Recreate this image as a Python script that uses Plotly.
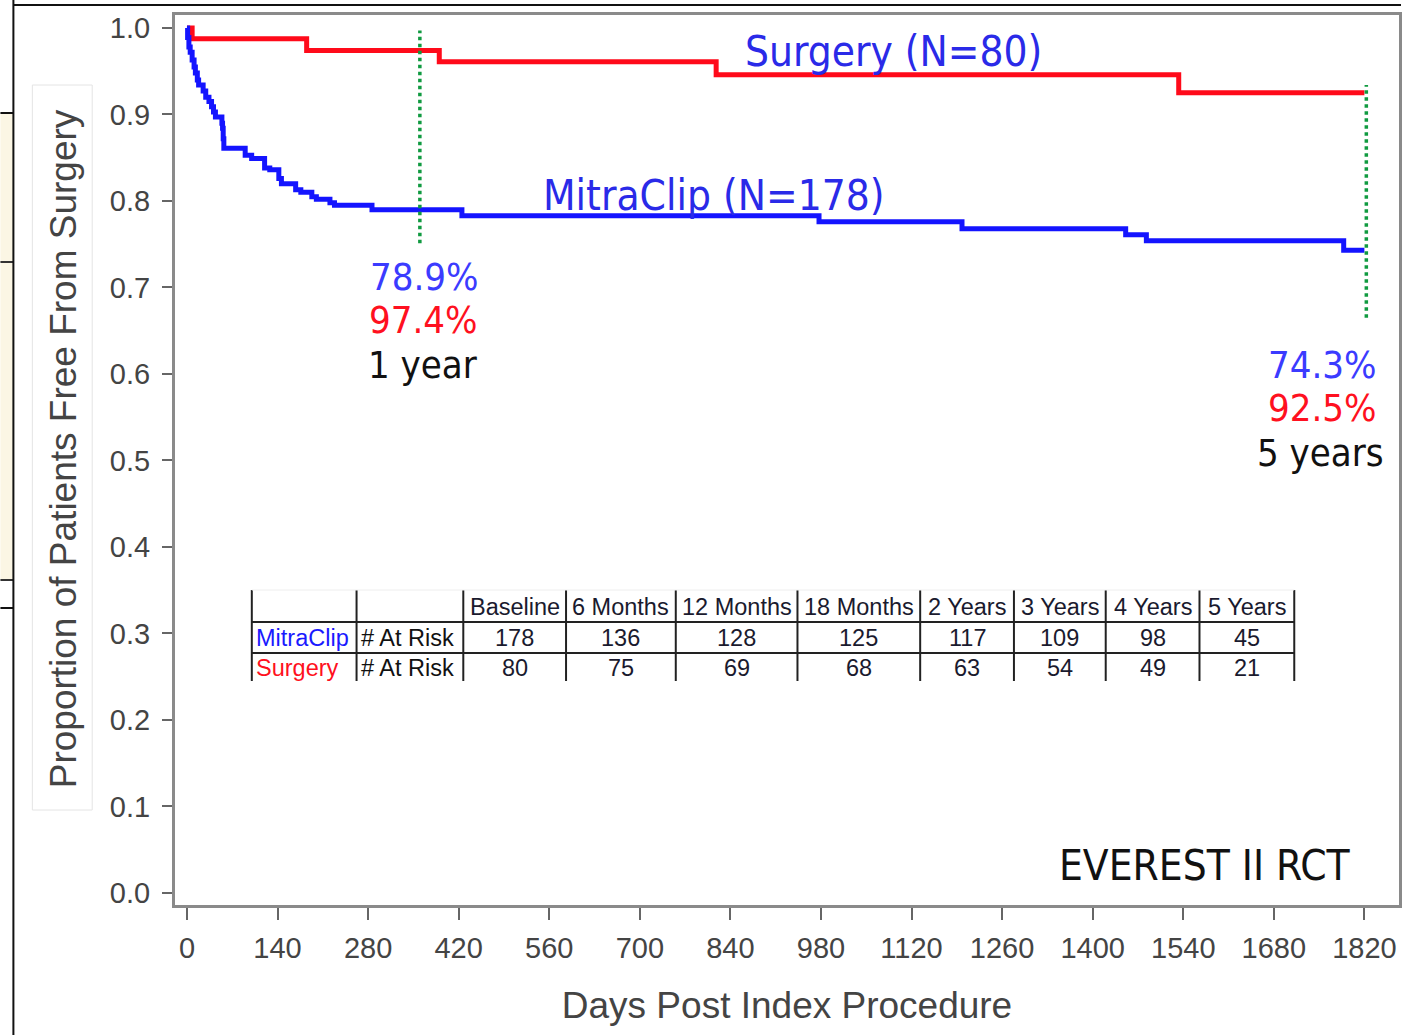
import plotly.graph_objects as go

# ---------------- data ----------------
mitra_days = [0, 1, 3, 5, 8, 11, 13, 16, 18, 25, 29, 34, 38, 41, 44, 54, 55, 56, 57,
              90, 100, 120, 128, 142, 146, 168, 176, 193, 200, 221, 228, 286, 425,
              977, 1198, 1451, 1483, 1788, 1820]
mitra_surv = [1.0, 0.989, 0.978, 0.972, 0.963, 0.955, 0.948, 0.940, 0.934, 0.927,
              0.920, 0.915, 0.909, 0.903, 0.897, 0.890, 0.884, 0.872, 0.861,
              0.853, 0.849, 0.838, 0.836, 0.826, 0.820, 0.813, 0.810, 0.805, 0.802,
              0.798, 0.795, 0.790, 0.783, 0.776, 0.768, 0.761, 0.754, 0.743, 0.743]

surg_days = [0, 8, 185, 390, 818, 1533, 1820]
surg_surv = [1.0, 0.9875, 0.974, 0.961, 0.946, 0.925, 0.925]

marker_days = [360, 1823]
marker_top = [0.997, 0.934]
marker_bottom = [0.751, 0.665]

x_ticks = [0, 140, 280, 420, 560, 700, 840, 980, 1120, 1260, 1400, 1540, 1680, 1820]
y_ticks = [0.0, 0.1, 0.2, 0.3, 0.4, 0.5, 0.6, 0.7, 0.8, 0.9, 1.0]

table_headers = ["Baseline", "6 Months", "12 Months", "18 Months", "2 Years",
                 "3 Years", "4 Years", "5 Years"]
mitra_at_risk = [178, 136, 128, 125, 117, 109, 98, 45]
surg_at_risk = [80, 75, 69, 68, 63, 54, 49, 21]

# ---------------- layout helpers (pixel -> paper) ----------------
W, H = 1404, 1035
L, R, T, B = 175, 1402, 15, 905


def px(x):
    return (x - L) / (R - L)


def py(y):
    return (B - y) / (B - T)


ARIAL = "Liberation Sans, Arial, sans-serif"
NARROW = "DejaVu Sans Condensed, Liberation Sans Narrow, Arial Narrow, Liberation Sans, sans-serif"
BLUE_TXT = "#2a2ae8"
PCT_BLUE = "#3b3bff"

fig = go.Figure()

fig.add_trace(go.Scatter(x=surg_days, y=surg_surv, mode="lines",
                         line=dict(shape="hv", color="#ff0a1a", width=5),
                         name="Surgery", showlegend=False, hoverinfo="skip"))
fig.add_trace(go.Scatter(x=mitra_days, y=mitra_surv, mode="lines",
                         line=dict(shape="hv", color="#1414ff", width=5),
                         name="MitraClip", showlegend=False, hoverinfo="skip"))

for d, t, b in zip(marker_days, marker_top, marker_bottom):
    fig.add_trace(go.Scatter(x=[d, d], y=[b, t], mode="lines",
                             line=dict(color="#109a40", width=3.5, dash="dot"),
                             showlegend=False, hoverinfo="skip"))

shapes = []
annotations = []

# outer frame pieces and cropped-edge artifacts
shapes.append(dict(type="rect", xref="paper", yref="paper", x0=px(0), x1=px(13),
                   y0=py(580), y1=py(113), fillcolor="#fbf6e4", line=dict(width=0), layer="below"))
for yy, c in [(113, "#111"), (262, "#333"), (580, "#333"), (608, "#111")]:
    shapes.append(dict(type="line", xref="paper", yref="paper", x0=px(0), x1=px(13),
                       y0=py(yy), y1=py(yy), line=dict(color=c, width=2)))
shapes.append(dict(type="line", xref="paper", yref="paper", x0=px(13), x1=px(13),
                   y0=py(0), y1=py(1035), line=dict(color="#111", width=2)))
shapes.append(dict(type="line", xref="paper", yref="paper", x0=px(13), x1=px(1404),
                   y0=py(5), y1=py(5), line=dict(color="#111", width=2)))
# y-title box
shapes.append(dict(type="rect", xref="paper", yref="paper", x0=px(32), x1=px(92),
                   y0=py(810), y1=py(85), line=dict(color="#e4e4e4", width=1)))

# ---------------- at-risk table ----------------
col_edges = [252, 357, 464, 567, 677, 799, 922, 1016, 1108, 1202, 1297]
row_edges = [590, 622, 653, 681]
for xe in col_edges:
    shapes.append(dict(type="line", xref="paper", yref="paper", x0=px(xe), x1=px(xe),
                       y0=py(row_edges[0]), y1=py(row_edges[-1]),
                       line=dict(color="#222", width=2)))
for ye in row_edges[1:3]:
    shapes.append(dict(type="line", xref="paper", yref="paper", x0=px(col_edges[0]),
                       x1=px(col_edges[-1]), y0=py(ye), y1=py(ye),
                       line=dict(color="#222", width=2)))
shapes.append(dict(type="line", xref="paper", yref="paper", x0=px(col_edges[0]),
                   x1=px(col_edges[-1]), y0=py(row_edges[0]), y1=py(row_edges[0]),
                   line=dict(color="#eeeeee", width=1)))

row_centers = [(row_edges[i] + row_edges[i + 1]) / 2 + 1 for i in range(3)]
TFS = 23.5


def cell(x, y, text, color, xanchor="center"):
    annotations.append(dict(x=px(x), y=py(y), text=text, showarrow=False,
                            xref="paper", yref="paper", xanchor=xanchor, yanchor="middle",
                            font=dict(family=ARIAL, size=TFS, color=color)))


for i, h in enumerate(table_headers):
    cx = (col_edges[i + 2] + col_edges[i + 3]) / 2
    cell(cx, row_centers[0], h, "#1a1a2e")
    cell(cx, row_centers[1], str(mitra_at_risk[i]), "#1a1a2e")
    cell(cx, row_centers[2], str(surg_at_risk[i]), "#1a1a2e")
for r, (name, colr) in enumerate([("MitraClip", "#1a1aff"), ("Surgery", "#ff1020")]):
    cell(254, row_centers[r + 1], name, colr, "left")
    cell(359, row_centers[r + 1], "# At Risk", "#111", "left")


# ---------------- chart labels ----------------
def label(x, y, text, size, color, xanchor="center"):
    annotations.append(dict(x=px(x), y=py(y), text=text, showarrow=False,
                            xref="paper", yref="paper", xanchor=xanchor, yanchor="middle",
                            font=dict(family=NARROW, size=size, color=color)))


label(895, 52, "Surgery (N=80)", 42, BLUE_TXT)
label(715, 195, "MitraClip (N=178)", 42, BLUE_TXT)
label(425, 277, "78.9%", 38, PCT_BLUE)
label(424, 320, "97.4%", 38, "#ff1020")
label(424, 365, "1 year", 38, "#111")
label(1382, 365, "74.3%", 38, PCT_BLUE, "right")
label(1382, 408, "92.5%", 38, "#ff1020", "right")
label(1389, 453, "5 years", 38, "#111", "right")
label(1208, 865, "EVEREST II RCT", 42, "#111")

# y-axis title (placed as rotated text so it sits where the reference has it)
annotations.append(dict(x=px(63), y=py(449), text="Proportion of Patients Free From Surgery",
                        textangle=-90, showarrow=False, xref="paper", yref="paper",
                        xanchor="center", yanchor="middle",
                        font=dict(family=ARIAL, size=37, color="#444")))

fig.update_layout(
    width=W, height=H,
    margin=dict(l=L, r=W - R, t=T, b=H - B),
    paper_bgcolor="white", plot_bgcolor="white",
    shapes=shapes, annotations=annotations,
    xaxis=dict(range=[-18.5, 1873.5], tickvals=x_ticks, ticktext=[str(v) for v in x_ticks],
               showgrid=False, zeroline=False, showline=True, mirror=True,
               linecolor="#8a8a8a", linewidth=3, ticks="outside", ticklen=12,
               tickwidth=2, tickcolor="#666", ticklabelstandoff=3,
               tickfont=dict(family=ARIAL, size=29, color="#444"),
               title=dict(text="Days Post Index Procedure", standoff=30,
                          font=dict(family=ARIAL, size=37, color="#444"))),
    yaxis=dict(range=[-0.0139, 1.015], tickvals=y_ticks, tickformat=".1f",
               showgrid=False, zeroline=False, showline=True, mirror=True,
               linecolor="#8a8a8a", linewidth=3, ticks="outside", ticklen=10,
               tickwidth=2, tickcolor="#666", ticklabelstandoff=6,
               tickfont=dict(family=ARIAL, size=29, color="#444")),
)

fig.write_html("out.html", config={"displayModeBar": False},
               post_script="document.body.style.margin='0';document.body.style.overflow='hidden';")
